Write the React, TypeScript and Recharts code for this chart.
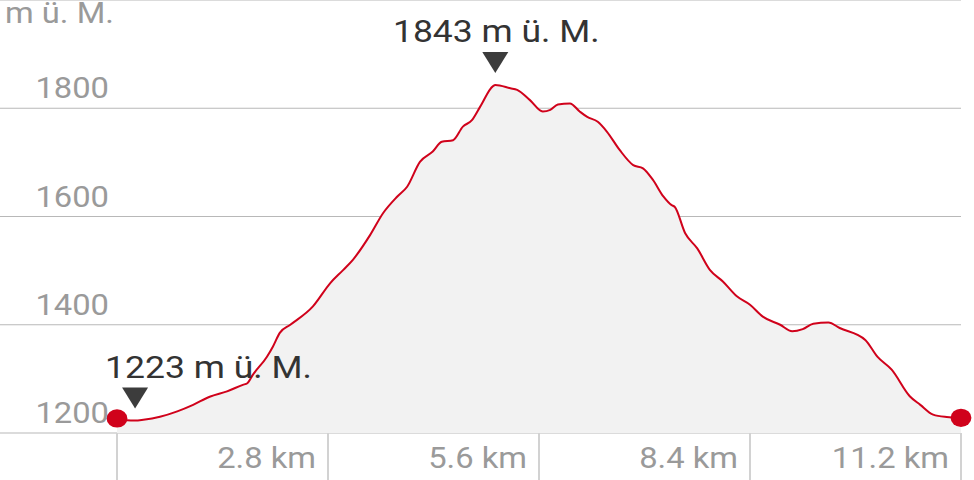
import React from 'react';
import { AreaChart, Area, XAxis, YAxis, CartesianGrid, ReferenceDot } from 'recharts';

const kmValues = [0, 0.13, 0.24, 0.35, 0.57, 0.80, 1.01, 1.23, 1.46, 1.67, 1.73, 1.80, 1.99, 2.07, 2.16, 2.30, 2.60, 2.83, 3.00, 3.13, 3.36, 3.53, 3.72, 3.85, 4.02, 4.19, 4.31, 4.46, 4.59, 4.71, 4.82, 4.99, 5.02, 5.22, 5.31, 5.48, 5.65, 5.75, 5.85, 6.01, 6.14, 6.24, 6.38, 6.50, 6.67, 6.85, 6.98, 7.11, 7.25, 7.36, 7.40, 7.54, 7.70, 7.87, 8.04, 8.23, 8.40, 8.57, 8.80, 8.96, 9.10, 9.24, 9.44, 9.59, 9.93, 10.09, 10.28, 10.52, 10.66, 10.83, 11.01, 11.20];
const elevations = [1227, 1223.5, 1223, 1224.5, 1230, 1240, 1252, 1267, 1277, 1289, 1292, 1307, 1341, 1360, 1385, 1400, 1434, 1477, 1501, 1520, 1566, 1606, 1637, 1655, 1701, 1720, 1738, 1741, 1766, 1778, 1803, 1841, 1843, 1837, 1834, 1815, 1794, 1797, 1807, 1809, 1794, 1784, 1775, 1757, 1723, 1695, 1689, 1668, 1637, 1621, 1618, 1569, 1541, 1501, 1480, 1452, 1437, 1415, 1400, 1388, 1392, 1402, 1404, 1394, 1372, 1341, 1317, 1268, 1252, 1234, 1229.5, 1228];

const xTicks = [0, 2.8, 5.6, 8.4, 11.2];
const xTickLabels = ['', '2.8 km', '5.6 km', '8.4 km', '11.2 km'];
const yTicks = [1200, 1400, 1600, 1800];
const yTickLabels = ['1200', '1400', '1600', '1800'];
const unitLabel = 'm ü. M.';

const minPoint = { km: 0.24, elev: 1223, label: '1223 m ü. M.' };
const maxPoint = { km: 5.02, elev: 1843, label: '1843 m ü. M.' };

const data = kmValues.map((k, i) => ({ km: k, elev: elevations[i] }));

const RED = '#d0021b';
const STRETCH = 1.11;

const SText = (p: { x: number; y: number; anchor: 'start' | 'middle' | 'end'; size: number; fill: string; children: any }) => (
  <text
    transform={`translate(${p.x},${p.y}) scale(${STRETCH},1)`}
    x={0}
    y={0}
    textAnchor={p.anchor}
    fill={p.fill}
    fontSize={p.size}
  >
    {p.children}
  </text>
);

const YTick = (props: any) => {
  const { y, payload } = props;
  const idx = yTicks.indexOf(payload.value);
  return (
    <SText x={109} y={y - 10} anchor="end" fill="#9a9a9a" size={29.5}>
      {yTickLabels[idx]}
    </SText>
  );
};

const XTick = (props: any) => {
  const { x, y, payload } = props;
  const idx = xTicks.indexOf(payload.value);
  return (
    <g>
      <line x1={x} x2={x} y1={y} y2={y + 47} stroke="#d2d2d2" strokeWidth={2} />
      <SText x={x - 12} y={y + 35} anchor="end" fill="#9a9a9a" size={29.5}>
        {xTickLabels[idx]}
      </SText>
    </g>
  );
};

const makeMarker = (label: string, anchor: 'start' | 'middle', dx: number) => (props: any) => {
  const { cx, cy } = props;
  const tipY = cy - 12;
  return (
    <g>
      <polygon
        points={`${cx - 13},${tipY - 21} ${cx + 13},${tipY - 21} ${cx},${tipY}`}
        fill="#3c3c3c"
      />
      <SText x={cx + dx} y={cy - 43} anchor={anchor} fill="#333333" size={32}>
        {label}
      </SText>
    </g>
  );
};

const EndDot = (props: any) => {
  const { cx, cy } = props;
  return <ellipse cx={cx} cy={cy} rx={10.4} ry={9.2} fill={RED} />;
};

export default function App() {
  return (
    <div style={{ position: 'absolute', left: 0, top: 0, width: 974, height: 480, fontFamily: 'Roboto, sans-serif', background: '#fff' }}>
      <AreaChart width={974} height={480} data={data} margin={{ top: 0, right: 13, bottom: 0, left: 0 }}>
        <CartesianGrid vertical={false} stroke="#b8b8b8" strokeWidth={1.2} />
        <XAxis
          dataKey="km"
          type="number"
          domain={[-1.5526, 11.2]}
          ticks={xTicks}
          allowDataOverflow
          height={47}
          axisLine={false}
          tickLine={false}
          tickSize={0}
          tickMargin={0}
          interval={0}
          tick={<XTick />}
        />
        <YAxis
          type="number"
          domain={[1200, 2000]}
          ticks={yTicks}
          width={60}
          mirror
          axisLine={false}
          tickLine={false}
          interval={0}
          tick={<YTick />}
          allowDataOverflow
        />
        <Area
          type="monotone"
          dataKey="elev"
          stroke={RED}
          strokeWidth={2}
          fill="#f2f2f2"
          fillOpacity={1}
          isAnimationActive={false}
          dot={false}
          activeDot={false}
        />
        <ReferenceDot x={minPoint.km} y={minPoint.elev} ifOverflow="visible" shape={makeMarker(minPoint.label, 'start', -30)} />
        <ReferenceDot x={maxPoint.km} y={maxPoint.elev} ifOverflow="visible" shape={makeMarker(maxPoint.label, 'middle', 1)} />
        <ReferenceDot x={kmValues[0]} y={elevations[0]} ifOverflow="visible" shape={EndDot} />
        <ReferenceDot
          x={kmValues[kmValues.length - 1]}
          y={elevations[elevations.length - 1]}
          ifOverflow="visible"
          shape={EndDot}
        />
      </AreaChart>
      <svg width={200} height={40} style={{ position: 'absolute', left: 0, top: 0 }}>
        <SText x={5} y={23} anchor="start" fill="#9a9a9a" size={29.5}>
          {unitLabel}
        </SText>
      </svg>
    </div>
  );
}
